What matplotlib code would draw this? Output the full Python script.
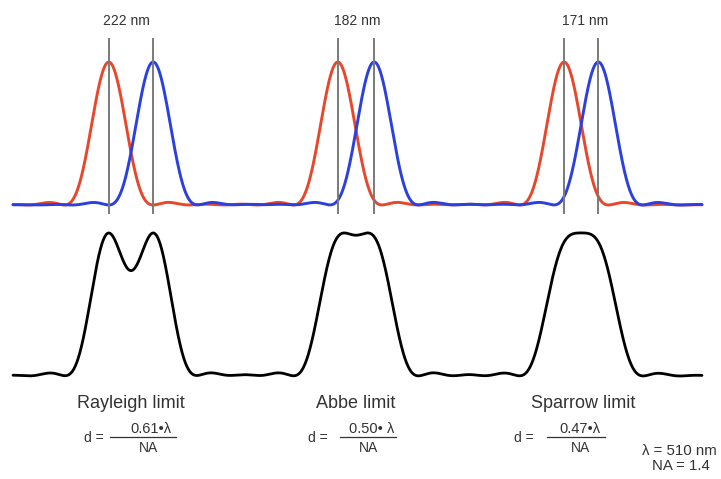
import numpy as np
import matplotlib
matplotlib.use("Agg")
import matplotlib.pyplot as plt
from matplotlib.lines import Line2D

# ---------------- data ----------------
wavelength_nm = 510
numerical_aperture = 1.4
separations_nm = [222, 182, 171]          # peak-to-peak distances
pair_centers_nm = [655, 1780, 2906]       # midpoint of each pair along x
limit_names = ["Rayleigh limit", "Abbe limit", "Sparrow limit"]
numerators = ["0.61\u2022\u03bb", "0.50\u2022 \u03bb", "0.47\u2022\u03bb"]
sep_labels = ["222 nm", "182 nm", "171 nm"]
x_range_nm = [65, 3510]

# ---------------- Airy profile ----------------
def bessel_j1(v):
    tau = np.linspace(0, np.pi, 401)
    vals = np.cos(tau[None, :] - v[:, None] * np.sin(tau)[None, :])
    return np.trapezoid(vals, tau, axis=1) / np.pi

def airy(r):
    v = 2 * np.pi * numerical_aperture * np.abs(r) / wavelength_nm
    out = np.ones_like(v)
    nz = v > 1e-9
    out[nz] = (2 * bessel_j1(v[nz]) / v[nz]) ** 2
    return out

x = np.linspace(x_range_nm[0], x_range_nm[1], 3000)
red = np.zeros_like(x)
blue = np.zeros_like(x)
total = np.zeros_like(x)
for c, d in zip(pair_centers_nm, separations_nm):
    r_i = airy(x - (c - d / 2))
    b_i = airy(x - (c + d / 2))
    red += r_i
    blue += b_i
    s = r_i + b_i
    total += s / s.max()

# ---------------- figure ----------------
W, H = 721, 479
fig = plt.figure(figsize=(W / 100, H / 100), dpi=100)
fig.patch.set_facecolor("white")
plt.rcParams["font.family"] = ["Liberation Sans", "DejaVu Sans"]
TXT = "#333333"

top_rows = 230
ax_top = fig.add_axes([0, 1 - top_rows / H, 1, top_rows / H])
ax_top.set_xlim(0, W / 0.2)
ax_top.set_ylim((205 - top_rows) / 143, 205 / 143)
ax_top.axis("off")

ax_bot = fig.add_axes([0, 0, 1, (H - top_rows) / H])
ax_bot.set_xlim(0, W / 0.2)
ax_bot.set_ylim((376 - H) / 143, (376 - top_rows) / 143)
ax_bot.axis("off")

ax_top.plot(x, red, color="#e8472b", lw=2.1, zorder=2, solid_capstyle="round")
ax_top.plot(x, blue, color="#2b40de", lw=2.1, zorder=3, solid_capstyle="round")
for c, d in zip(pair_centers_nm, separations_nm):
    for p in (c - d / 2, c + d / 2):
        ax_top.plot([p, p], [-0.056, 1.161], color="#7a7a7a", lw=1.4, zorder=4)

ax_bot.plot(x, total, color="black", lw=2.0, clip_on=False, solid_capstyle="round")

def ftext(px, py, s, **kw):
    fig.text(px / W, 1 - py / H, s, ha="center", va="center", color=TXT, **kw)

def fline(x0, x1, py):
    fig.add_artist(Line2D([x0 / W, x1 / W], [1 - py / H] * 2,
                          transform=fig.transFigure, color=TXT, lw=0.9))

label_x = [126, 357, 585]
for lx, s in zip(label_x, sep_labels):
    ftext(lx, 21, s, fontsize=10)

name_x = [131, 356, 583]
d_x = [94, 318, 524]
num_x = [151, 372, 580]
bar_x = [(110, 176), (340, 396), (547, 605)]
na_x = [148, 368, 581]
for i in range(3):
    ftext(name_x[i], 403, limit_names[i], fontsize=13)
    ftext(d_x[i], 438, "d =", fontsize=10)
    ftext(num_x[i], 429, numerators[i], fontsize=10.5)
    fline(bar_x[i][0], bar_x[i][1], 437)
    ftext(na_x[i], 447.5, "NA", fontsize=10)

ftext(679, 451, "\u03bb = %d nm" % wavelength_nm, fontsize=10.8)
ftext(681, 466, "NA = %.1f" % numerical_aperture, fontsize=10.8)

fig.savefig("out.png", dpi=100, facecolor="white")
